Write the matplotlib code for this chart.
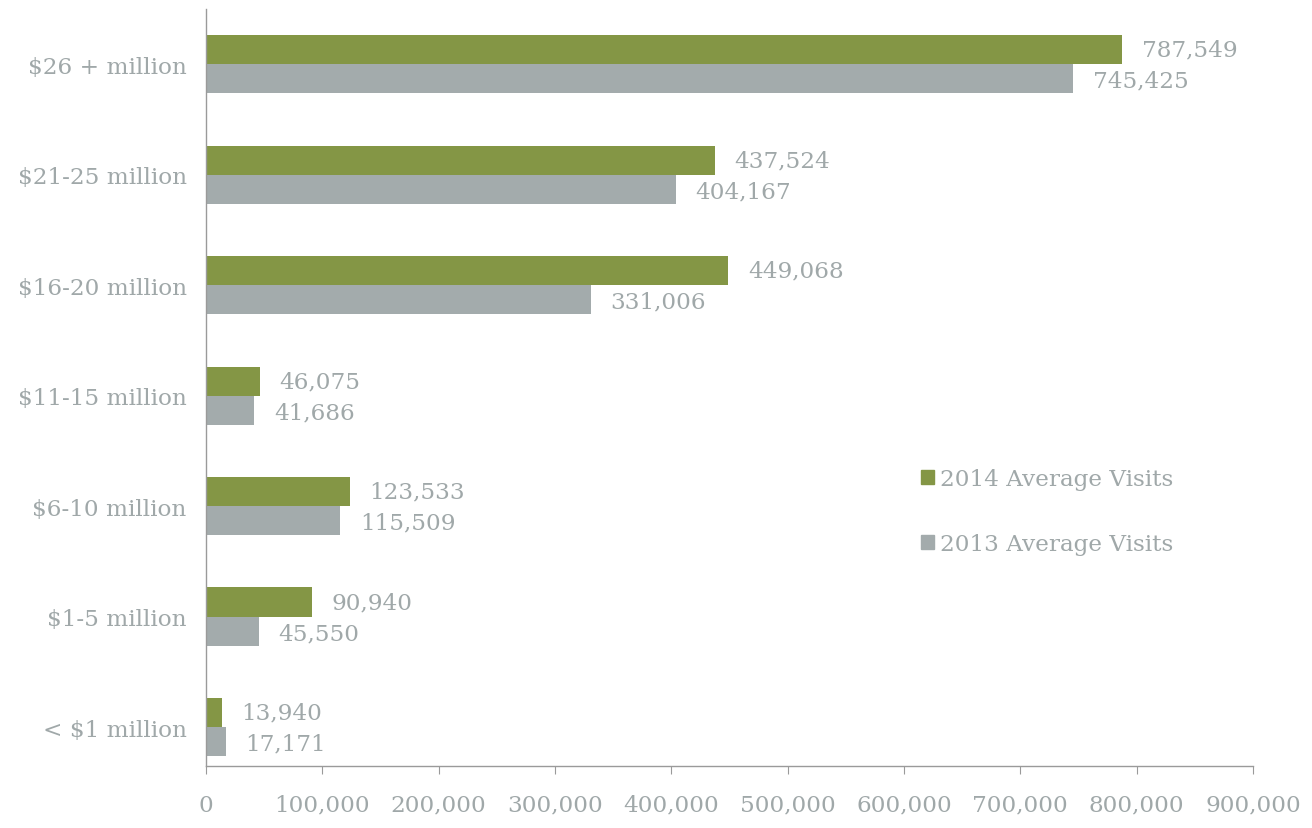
import matplotlib
matplotlib.use("Agg")
import matplotlib.pyplot as plt
from matplotlib.patches import Patch
import numpy as np

categories = ["< $1 million", "$1-5 million", "$6-10 million", "$11-15 million",
              "$16-20 million", "$21-25 million", "$26 + million"]
visits_2014 = [13940, 90940, 123533, 46075, 449068, 437524, 787549]
visits_2013 = [17171, 45550, 115509, 41686, 331006, 404167, 745425]
xticks = [0, 100000, 200000, 300000, 400000, 500000, 600000, 700000, 800000, 900000]

GREEN = "#849645"
GRAY = "#a3abac"
TEXT = "#a0a8a9"
AXIS = "#9a9a9a"

plt.rcParams["font.family"] = ["DejaVu Serif"]

fig = plt.figure(figsize=(13.12, 8.29), dpi=100)
ax = fig.add_axes([206 / 1312, 1 - 767 / 829, 1047 / 1312, 757 / 829])

y = np.arange(len(categories))
h = 0.263
ax.barh(y + h / 2, visits_2014, height=h, color=GREEN, label="2014 Average Visits")
ax.barh(y - h / 2, visits_2013, height=h, color=GRAY, label="2013 Average Visits")

fs = 16.7
for yi, v in zip(y, visits_2014):
    ax.annotate(f"{v:,}", (v, yi + h / 2), xytext=(14, 0), textcoords="offset points",
                va="center", ha="left", color=TEXT, fontsize=fs)
for yi, v in zip(y, visits_2013):
    ax.annotate(f"{v:,}", (v, yi - h / 2), xytext=(14, -1.5), textcoords="offset points",
                va="center", ha="left", color=TEXT, fontsize=fs)

ax.set_xlim(0, 900000)
ax.set_ylim(-0.353, 6.5)
ax.set_xticks(xticks)
ax.set_xticklabels([f"{t:,}" for t in xticks])
ax.set_yticks(y)
ax.set_yticklabels(categories)

for s in ["top", "right"]:
    ax.spines[s].set_visible(False)
for s in ["left", "bottom"]:
    ax.spines[s].set_color(AXIS)
    ax.spines[s].set_linewidth(1.0)

ax.tick_params(axis="x", colors=AXIS, labelcolor=TEXT, labelsize=fs, length=6, pad=14)
ax.tick_params(axis="y", length=0, labelcolor=TEXT, labelsize=fs, pad=14)

handles = [Patch(color=GREEN), Patch(color=GRAY)]
leg = ax.legend(handles, ["2014 Average Visits", "2013 Average Visits"],
                loc="center left", bbox_to_anchor=(0.683, 0.336), frameon=False,
                fontsize=fs, handlelength=0.55, handleheight=0.55, handletextpad=0.25,
                labelspacing=1.85, borderpad=0, borderaxespad=0)
for t in leg.get_texts():
    t.set_color(TEXT)

fig.savefig("out.png", dpi=100, facecolor="white")
